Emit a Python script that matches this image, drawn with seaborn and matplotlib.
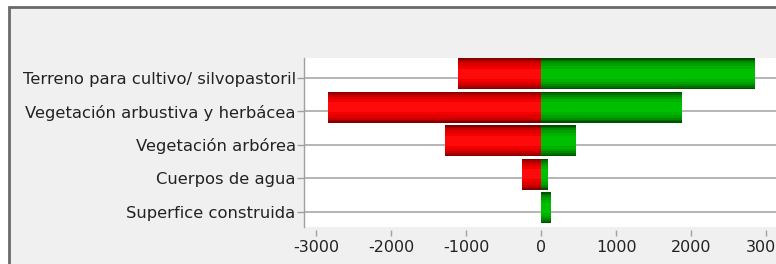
import matplotlib
matplotlib.use("Agg")
import matplotlib.pyplot as plt
from matplotlib.patches import Rectangle
import seaborn as sns
import pandas as pd

categories = [
    "Terreno para cultivo/ silvopastoril",
    "Vegetación arbustiva y herbácea",
    "Vegetación arbórea",
    "Cuerpos de agua",
    "Superfice construida",
]
perdida = [-1108, -2844, -1290, -252, 0]
ganancia = [2857, 1883, 467, 91, 126]
xticks = [-3000, -2000, -1000, 0, 1000, 2000, 3000]

df = pd.DataFrame({"cat": categories, "perdida": perdida, "ganancia": ganancia})

sns.set_style("white")
plt.rcParams["font.family"] = ["DejaVu Sans"]

fig = plt.figure(figsize=(7.76, 2.64), dpi=100)
fig.patch.set_facecolor("white")
fig.add_artist(Rectangle((8.5 / 776, -0.1), 1.2, 1.1 - 7.5 / 264,
                         transform=fig.transFigure, facecolor="#f0f0f0",
                         edgecolor="#6a6a6a", linewidth=2, zorder=0))

ax = fig.add_axes([304 / 776, 37 / 264, 486 / 776, 169 / 264])
ax.set_facecolor("white")

# shaded bars: dark base, brighter narrower layers on top
red_layers = ["#840000", "#a80000", "#c60000", "#de0000", "#f20000", "#ff0a0a"]
green_layers = ["#005000", "#006e00", "#008a00", "#00a000", "#00b200", "#00be00"]
widths = [0.92, 0.84, 0.74, 0.62, 0.48, 0.30]
for rc, gc, w in zip(red_layers, green_layers, widths):
    sns.barplot(data=df, y="cat", x="perdida", orient="h", color=rc, width=w,
                saturation=1, linewidth=0, edgecolor="none", ax=ax, zorder=3)
    sns.barplot(data=df, y="cat", x="ganancia", orient="h", color=gc, width=w,
                saturation=1, linewidth=0, edgecolor="none", ax=ax, zorder=3)

ax.set_xlim(-3165, 3320)
ax.set_ylim(4.57, -0.47)
ax.set_yticks([i + 0.12 for i in range(len(categories))])
ax.set_yticklabels(categories)
ax.set_xticks(xticks)
ax.set_xticklabels([str(t) for t in xticks])
ax.set_xlabel("")
ax.set_ylabel("")

ax.grid(axis="y", color="#a8a8a8", linewidth=1.2, zorder=0)
ax.grid(axis="x", visible=False)
ax.set_axisbelow(True)

for s in ["top", "right", "bottom"]:
    ax.spines[s].set_visible(False)
ax.spines["left"].set_color("#a0a0a0")
ax.spines["left"].set_linewidth(1.0)
ax.spines["bottom"].set_position(("outward", 2))

ax.tick_params(axis="y", left=True, length=5, width=1, color="#a0a0a0",
               labelsize=11.8, labelcolor="#222222", pad=1)
ax.tick_params(axis="x", bottom=True, length=4, width=1, color="#a0a0a0",
               labelsize=11.5, labelcolor="#222222", pad=3)

fig.savefig("out.png", dpi=100, facecolor=fig.get_facecolor())
